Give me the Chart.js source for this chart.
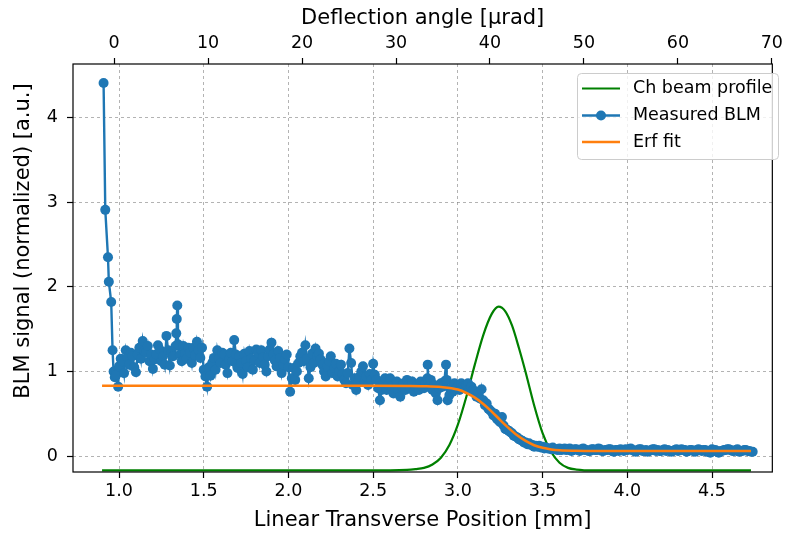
<!DOCTYPE html>
<html>
<head>
<meta charset="utf-8">
<script src="https://cdn.jsdelivr.net/npm/chart.js@4.4.1/dist/chart.umd.min.js"></script>
<style>
  html, body { margin: 0; padding: 0; background: #fff; }
  #wrap { width: 787px; height: 536px; }
</style>
</head>
<body>
<div id="wrap"><canvas id="blmChart" width="787" height="536"></canvas></div>
<script>
// Measured BLM signal vs linear transverse position [mm]
const blmPos = [
  0.909, 0.919, 0.935, 0.940, 0.954, 0.962, 0.968, 0.975, 0.984, 0.995,
  1.00, 1.01, 1.02, 1.03, 1.04, 1.05, 1.06, 1.07, 1.08, 1.09,
  1.10, 1.11, 1.12, 1.13, 1.14, 1.15, 1.16, 1.17, 1.18, 1.19,
  1.20, 1.21, 1.22, 1.23, 1.24, 1.25, 1.26, 1.27, 1.28, 1.29,
  1.30, 1.31, 1.32, 1.334, 1.338, 1.341, 1.344, 1.348,
  1.36, 1.37, 1.38, 1.39,
  1.40, 1.41, 1.42, 1.43, 1.44, 1.45, 1.46, 1.47, 1.48, 1.49,
  1.50, 1.51, 1.52, 1.53, 1.54, 1.55, 1.56, 1.57, 1.58, 1.59,
  1.60, 1.61, 1.62, 1.63, 1.64, 1.65, 1.66, 1.67, 1.68, 1.69,
  1.70, 1.71, 1.72, 1.73, 1.74, 1.75, 1.76, 1.77, 1.78, 1.79,
  1.80, 1.81, 1.82, 1.83, 1.84, 1.85, 1.86, 1.87, 1.88, 1.89,
  1.90, 1.91, 1.92, 1.93, 1.94, 1.95, 1.96, 1.97, 1.98, 1.99,
  2.00, 2.01, 2.02, 2.03, 2.04, 2.05, 2.06, 2.07, 2.08, 2.09,
  2.10, 2.11, 2.12, 2.13, 2.14, 2.15, 2.16, 2.17, 2.18, 2.19,
  2.20, 2.21, 2.22, 2.23, 2.24, 2.25, 2.26, 2.27, 2.28, 2.29,
  2.30, 2.31, 2.32, 2.33, 2.34, 2.35, 2.36, 2.37, 2.38, 2.39,
  2.40, 2.41, 2.42, 2.43, 2.44, 2.45, 2.46, 2.47, 2.48, 2.49,
  2.50, 2.51, 2.52, 2.53, 2.54, 2.55, 2.56, 2.57, 2.58, 2.59,
  2.60, 2.61, 2.62, 2.63, 2.64, 2.65, 2.66, 2.67, 2.68, 2.69,
  2.70, 2.71, 2.72, 2.73, 2.74, 2.75, 2.76, 2.77, 2.78, 2.79,
  2.80, 2.81, 2.82, 2.822, 2.826, 2.83, 2.84, 2.85, 2.86, 2.87, 2.88, 2.89,
  2.90, 2.91, 2.92, 2.93, 2.934, 2.94, 2.95, 2.96, 2.97, 2.98, 2.99,
  3.00, 3.01, 3.02, 3.03, 3.04, 3.05, 3.06, 3.07, 3.08, 3.09,
  3.10, 3.11, 3.12, 3.13, 3.14, 3.15, 3.16, 3.17, 3.18, 3.19,
  3.20, 3.21, 3.22, 3.23, 3.24, 3.25, 3.26, 3.27, 3.28, 3.29,
  3.30, 3.31, 3.32, 3.33, 3.34, 3.35, 3.36, 3.37, 3.38, 3.39,
  3.40, 3.41, 3.42, 3.43, 3.44, 3.45, 3.46, 3.47, 3.48, 3.49,
  3.50, 3.51, 3.52, 3.53, 3.54, 3.55, 3.56, 3.57, 3.58, 3.59,
  3.60, 3.61, 3.62, 3.63, 3.64, 3.65, 3.66, 3.67, 3.68, 3.69,
  3.70, 3.71, 3.72, 3.73, 3.74, 3.75, 3.76, 3.77, 3.78, 3.79,
  3.80, 3.81, 3.82, 3.83, 3.84, 3.85, 3.86, 3.87, 3.88, 3.89,
  3.90, 3.91, 3.92, 3.93, 3.94, 3.95, 3.96, 3.97, 3.98, 3.99,
  4.00, 4.01, 4.02, 4.03, 4.04, 4.05, 4.06, 4.07, 4.08, 4.09,
  4.10, 4.11, 4.12, 4.13, 4.14, 4.15, 4.16, 4.17, 4.18, 4.19,
  4.20, 4.21, 4.22, 4.23, 4.24, 4.25, 4.26, 4.27, 4.28, 4.29,
  4.30, 4.31, 4.32, 4.33, 4.34, 4.35, 4.36, 4.37, 4.38, 4.39,
  4.40, 4.41, 4.42, 4.43, 4.44, 4.45, 4.46, 4.47, 4.48, 4.49,
  4.50, 4.51, 4.52, 4.53, 4.54, 4.55, 4.56, 4.57, 4.58, 4.59,
  4.60, 4.61, 4.62, 4.63, 4.64, 4.65, 4.66, 4.67, 4.68, 4.69,
  4.70, 4.71, 4.72, 4.73, 4.74
];
const blmSignal = [
  4.41, 2.91, 2.35, 2.06, 1.82, 1.25, 1.00, 0.93, 0.96, 0.82,
  1.06, 1.15, 1.12, 0.98, 1.25, 1.17, 1.08, 1.22, 1.18, 1.05,
  0.99, 1.20, 1.28, 1.15, 1.36, 1.24, 1.22, 1.30, 1.12, 1.20,
  1.03, 1.14, 1.20, 1.31, 1.26, 1.12, 1.18, 1.08, 1.42, 1.25,
  1.07, 1.22, 1.18, 1.30, 1.45, 1.62, 1.78, 1.32,
  1.20, 1.12, 1.30, 1.21,
  1.15, 1.28, 1.22, 1.10, 1.28, 1.19, 1.35, 1.25, 1.16, 1.28,
  1.02, 0.94, 0.82, 1.05, 0.95, 1.10, 1.16, 1.02, 1.25, 1.15,
  1.10, 1.22, 1.20, 1.08, 0.98, 1.14, 1.22, 1.12, 1.37, 1.20,
  1.04, 1.18, 1.10, 0.97, 1.21, 1.12, 1.05, 1.24, 1.15, 1.02,
  1.13, 1.26, 1.22, 1.10, 1.25, 1.17, 1.08, 1.00, 1.18, 1.26,
  1.34, 1.20, 1.13, 1.06, 1.24, 1.16, 0.98, 1.08, 1.14, 1.20,
  1.05, 0.76, 0.92, 1.04, 0.90, 1.00, 1.10, 1.18, 1.22, 1.12,
  1.31, 1.15, 0.92, 1.05, 1.21, 1.10, 1.27, 1.18, 1.21, 1.14,
  1.08, 1.00, 0.94, 1.06, 1.12, 1.18, 0.98, 1.04, 1.09, 0.94,
  1.00, 1.08, 0.97, 0.90, 0.86, 0.98, 1.27, 1.10, 0.84, 0.92,
  0.78, 0.88, 0.94, 1.00, 1.06, 0.88, 0.94, 0.84, 0.97, 0.90,
  1.09, 0.96, 0.90, 0.80, 0.66, 0.78, 0.86, 0.92, 0.78, 0.84,
  0.92, 0.82, 0.74, 0.80, 0.88, 0.78, 0.70, 0.82, 0.86, 0.78,
  0.90, 0.84, 0.80, 0.88, 0.76, 0.82, 0.84, 0.78, 0.88, 0.82,
  0.80, 0.86, 0.92, 1.08, 0.88, 0.82, 0.90, 0.78, 0.84, 0.74, 0.66, 0.80,
  0.86, 0.82, 0.88, 1.08, 0.90, 0.66, 0.72, 0.80, 0.76, 0.86, 0.80,
  0.82, 0.78, 0.86, 0.82, 0.80, 0.84, 0.86, 0.79, 0.82, 0.78,
  0.76, 0.70, 0.74, 0.68, 0.79, 0.66, 0.60, 0.62, 0.56, 0.54,
  0.52, 0.48, 0.50, 0.44, 0.42, 0.40, 0.46, 0.36, 0.32, 0.31,
  0.30, 0.28, 0.27, 0.24, 0.23, 0.22, 0.20, 0.19, 0.18, 0.16,
  0.16, 0.14, 0.15, 0.13, 0.13, 0.11, 0.12, 0.11, 0.12, 0.10,
  0.11, 0.09, 0.10, 0.09, 0.09, 0.08, 0.10, 0.08, 0.08, 0.07,
  0.09, 0.07, 0.08, 0.09, 0.07, 0.08, 0.09, 0.06, 0.07, 0.08,
  0.08, 0.07, 0.06, 0.08, 0.09, 0.07, 0.07, 0.06, 0.06, 0.08,
  0.08, 0.07, 0.07, 0.09, 0.08, 0.06, 0.06, 0.07, 0.07, 0.08,
  0.08, 0.06, 0.05, 0.07, 0.07, 0.06, 0.08, 0.07, 0.06, 0.08,
  0.07, 0.08, 0.09, 0.07, 0.06, 0.05, 0.07, 0.08, 0.08, 0.06,
  0.06, 0.07, 0.05, 0.06, 0.07, 0.08, 0.08, 0.06, 0.07, 0.06,
  0.06, 0.07, 0.08, 0.06, 0.07, 0.06, 0.05, 0.06, 0.07, 0.08,
  0.06, 0.07, 0.08, 0.07, 0.07, 0.05, 0.06, 0.07, 0.07, 0.06,
  0.05, 0.07, 0.08, 0.07, 0.06, 0.07, 0.07, 0.05, 0.06, 0.04,
  0.08, 0.06, 0.07, 0.05, 0.04, 0.06, 0.06, 0.07, 0.07, 0.08,
  0.08, 0.07, 0.06, 0.06, 0.07, 0.08, 0.05, 0.06, 0.06, 0.07,
  0.07, 0.06, 0.06, 0.05, 0.05
];

// Erf fit
const fitPos = [0.90, 2.50, 2.70, 2.80, 2.90, 3.00, 3.05, 3.10, 3.15, 3.20, 3.25, 3.30, 3.35, 3.40, 3.45, 3.50, 3.55, 3.60, 3.70, 3.80, 4.73];
const fitSignal = [0.83, 0.83, 0.828, 0.825, 0.815, 0.785, 0.745, 0.69, 0.615, 0.525, 0.425, 0.33, 0.245, 0.178, 0.128, 0.097, 0.078, 0.068, 0.062, 0.06, 0.06];

// Channeled beam profile
const beamPos = [0.90, 2.60, 2.70, 2.75, 2.80, 2.85, 2.90, 2.95, 3.00, 3.05, 3.10, 3.15, 3.20, 3.24, 3.28, 3.32, 3.36, 3.40, 3.45, 3.50, 3.55, 3.60, 3.65, 3.70, 3.80, 4.73];
const beamProfile = [-0.17, -0.17, -0.165, -0.155, -0.14, -0.10, -0.02, 0.13, 0.37, 0.70, 1.08, 1.43, 1.68, 1.765, 1.71, 1.54, 1.28, 0.99, 0.60, 0.27, 0.05, -0.08, -0.14, -0.16, -0.17, -0.17];

const xTicksFmt = v => v.toFixed(1);
const FONT = 'DejaVu Sans';

const blue = '#1f77b4', orange = '#ff7f0e', green = '#008000';
const toXY = (xs, ys) => xs.map((x, i) => ({ x: x, y: ys[i] }));

// plot frame (all four spines)
const frame = {
    id: 'frame',
    afterDatasetsDraw(chart) {
        const { ctx, chartArea: a } = chart;
        ctx.save();
        ctx.strokeStyle = '#000';
        ctx.lineWidth = 1.2;
        ctx.strokeRect(a.left, a.top, a.right - a.left, a.bottom - a.top);
        ctx.restore();
    }
};

// y axis title sits a bit above the centre in the original
const yTitle = {
    id: 'yTitle',
    afterDraw(chart) {
        const ctx = chart.ctx;
        ctx.save();
        ctx.translate(24, 241);
        ctx.rotate(-Math.PI / 2);
        ctx.font = '21px "' + FONT + '"';
        ctx.fillStyle = '#000';
        ctx.textAlign = 'center';
        ctx.textBaseline = 'middle';
        ctx.fillText('BLM signal (normalized) [a.u.]', 0, 0);
        ctx.restore();
    }
};

// legend box inside the plot, upper right
const legendBox = {
    id: 'legendBox',
    afterDraw(chart) {
        const ctx = chart.ctx;
        const x = 577.5, y = 73.5, w = 201, h = 86;
        ctx.save();
        ctx.fillStyle = 'rgba(255,255,255,0.8)';
        ctx.strokeStyle = '#cccccc';
        ctx.lineWidth = 1;
        ctx.beginPath();
        ctx.roundRect(x, y, w, h, 4);
        ctx.fill();
        ctx.stroke();
        const rows = [88.5, 115.5, 142];
        chart.data.datasets.forEach((ds, i) => {
            const ry = rows[i];
            ctx.strokeStyle = ds.borderColor;
            ctx.lineWidth = ds.borderWidth;
            ctx.beginPath();
            ctx.moveTo(582, ry);
            ctx.lineTo(620, ry);
            ctx.stroke();
            if (ds.pointRadius) {
                ctx.fillStyle = ds.pointBackgroundColor;
                ctx.beginPath();
                ctx.arc(601, ry, ds.pointRadius, 0, Math.PI * 2);
                ctx.fill();
            }
            ctx.fillStyle = '#000';
            ctx.font = '17.5px "' + FONT + '"';
            ctx.textBaseline = 'middle';
            ctx.fillText(ds.label, 633, ry);
        });
        ctx.restore();
    }
};

const gridOpts = {
    color: 'rgba(128,128,128,0.75)',
    lineWidth: 0.8,
    tickLength: 6,
    tickColor: '#000',
    tickWidth: 1.2,
    tickBorderDash: []
};
const tickFont = { family: FONT, size: 17.5 };

const ctx = document.getElementById('blmChart').getContext('2d');
new Chart(ctx, {
    type: 'scatter',
    data: {
        datasets: [
            {
                label: 'Ch beam profile',
                data: toXY(beamPos, beamProfile),
                xAxisID: 'x', yAxisID: 'y',
                showLine: true,
                borderColor: green,
                borderWidth: 2.2,
                pointRadius: 0,
                cubicInterpolationMode: 'monotone',
                order: 3
            },
            {
                label: 'Measured BLM',
                data: toXY(blmPos, blmSignal),
                xAxisID: 'x', yAxisID: 'y',
                showLine: true,
                borderColor: blue,
                borderWidth: 2.4,
                pointRadius: 5,
                pointBackgroundColor: blue,
                pointBorderWidth: 0,
                order: 2
            },
            {
                label: 'Erf fit',
                data: toXY(fitPos, fitSignal),
                xAxisID: 'x', yAxisID: 'y',
                showLine: true,
                borderColor: orange,
                borderWidth: 2.6,
                pointRadius: 0,
                cubicInterpolationMode: 'monotone',
                order: 1
            }
        ]
    },
    options: {
        responsive: false,
        animation: false,
        layout: { padding: { right: 7 } },
        plugins: { legend: { display: false }, tooltip: { enabled: false } },
        scales: {
            x: {
                type: 'linear',
                position: 'bottom',
                min: 0.7285,
                max: 4.856,
                afterFit: s => { s.height = 64; },
                ticks: { stepSize: 0.5, includeBounds: false, autoSkip: false, maxRotation: 0,
                         padding: 3, color: '#000', font: tickFont, callback: xTicksFmt },
                grid: gridOpts,
                border: { display: false, dash: [3, 3] },
                title: { display: true, text: 'Linear Transverse Position [mm]', color: '#000',
                         font: { family: FONT, size: 21 }, padding: { top: 0, bottom: 3 } }
            },
            x2: {
                type: 'linear',
                position: 'top',
                min: -4.38,
                max: 70.05,
                afterFit: s => { s.height = 64; },
                ticks: { stepSize: 10, includeBounds: false, autoSkip: false, maxRotation: 0,
                         padding: 4, color: '#000', font: tickFont },
                grid: Object.assign({}, gridOpts, { drawOnChartArea: false }),
                border: { display: false },
                title: { display: true, text: 'Deflection angle [μrad]', color: '#000',
                         font: { family: FONT, size: 21 }, padding: { top: 6, bottom: 0 } }
            },
            y: {
                type: 'linear',
                min: -0.189,
                max: 4.634,
                afterFit: s => { s.width = 73; },
                ticks: { stepSize: 1, includeBounds: false, autoSkip: false, padding: 9,
                         color: '#000', font: tickFont },
                grid: gridOpts,
                border: { display: false, dash: [3, 3] }
            }
        }
    },
    plugins: [frame, yTitle, legendBox]
});
</script>
</body>
</html>
